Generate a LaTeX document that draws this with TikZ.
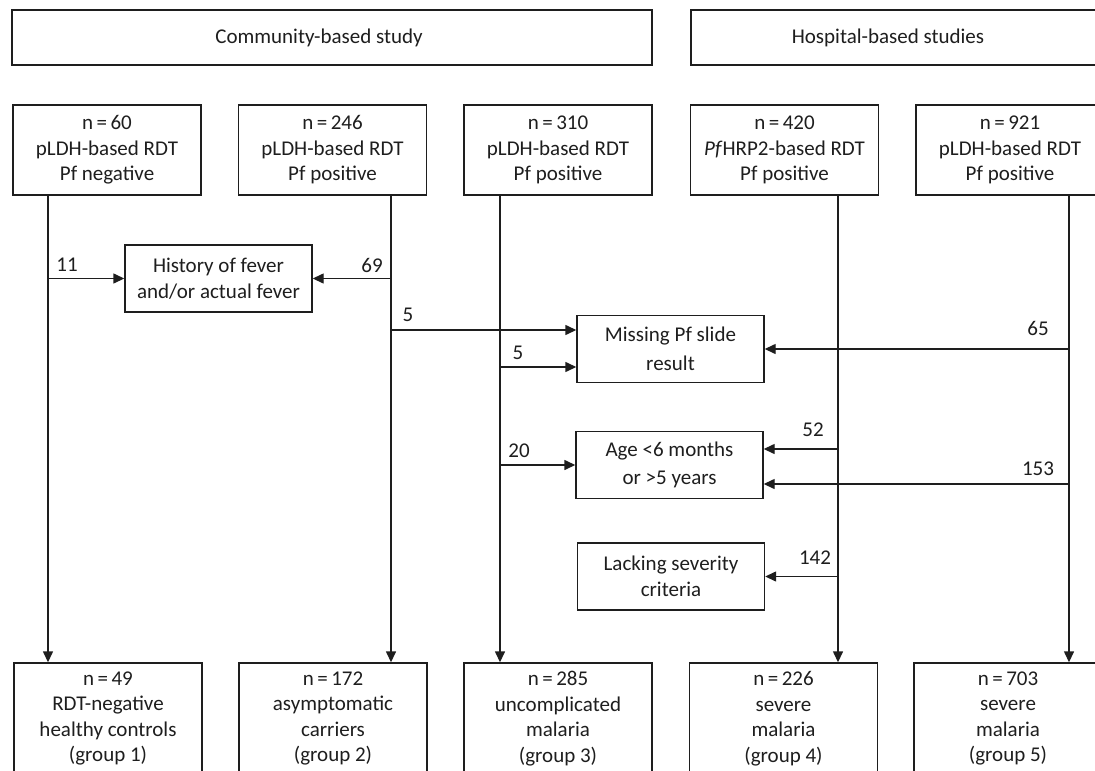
\documentclass[tikz,border=0pt]{standalone}
\usepackage{fontspec}
\setmainfont{Carlito}
\usetikzlibrary{arrows.meta}
\definecolor{ink}{RGB}{30,30,30}
\begin{document}
\begin{tikzpicture}[x=1pt,y=-1pt,line width=1.4pt,draw=ink,text=ink,
  box/.style={draw=ink,rectangle,inner sep=0pt,align=center,font=\fontsize{21}{25.5}\selectfont},
  headbox/.style={box,minimum height=55},
  topbox/.style={box,minimum width=188,minimum height=90},
  sidebox/.style={box,minimum width=187,minimum height=67},
  botbox/.style={box,minimum width=188,minimum height=111},
  arr/.style={-{Triangle[length=11pt,width=10pt]}},
  num/.style={inner sep=0pt,font=\fontsize{21}{25.5}\selectfont}]
\clip (0,0) rectangle (1095,771);
\fill[white] (0,0) rectangle (1095,771);
% headers
\node[headbox,minimum width=640] (comm) at (332,37.5) {Community-based study\hspace*{26pt}};
\node[headbox,minimum width=413] (hosp) at (897.5,37.5) {Hospital-based studies\hspace*{19pt}};
% top boxes
\node[topbox] (t1) at (107,150) {n\,=\,60\\pLDH-based RDT\\Pf negative};
\node[topbox] (t2) at (332.5,150) {n\,=\,246\\pLDH-based RDT\\Pf positive};
\node[topbox] (t3) at (558,150) {n\,=\,310\\pLDH-based RDT\\Pf positive};
\node[topbox] (t4) at (784.5,150) {n\,=\,420\\\textit{Pf}HRP2-based RDT\\Pf positive};
\node[topbox] (t5) at (1010,150) {n\,=\,921\\pLDH-based RDT\\Pf positive};
% side boxes
\node[sidebox] (hist) at (218.5,278.5) {History of fever\\and/or actual fever};
\node[sidebox] (miss) at (670.5,349) {Missing Pf slide\\[3pt]result};
\node[sidebox] (age) at (669.5,465) {Age <6 months\\[3pt]or >5 years};
\node[sidebox] (lack) at (671,576.5) {Lacking severity\\criteria};
% bottom boxes
\node[botbox] (b1) at (108,718.5) {n\,=\,49\\RDT-negative\\healthy controls\\(group 1)};
\node[botbox] (b2) at (333,718.5) {n\,=\,172\\asymptomatic\\carriers\\(group 2)};
\node[botbox] (b3) at (558,718.5) {n\,=\,285\\uncomplicated\\malaria\\(group 3)};
\node[botbox] (b4) at (783.5,718.5) {n\,=\,226\\severe\\malaria\\(group 4)};
\node[botbox] (b5) at (1008,718.5) {n\,=\,703\\severe\\malaria\\(group 5)};
% flow line positions
\coordinate (c1) at (48,0);
\coordinate (c2) at (391,0);
\coordinate (c3) at (500,0);
\coordinate (c4) at (838,0);
\coordinate (c5) at (1069,0);
\coordinate (r5a) at (0,330);
\coordinate (r5b) at (0,367);
\coordinate (r52) at (0,449);
\coordinate (r153) at (0,484);
% main vertical arrows
\draw[arr] (t1.south -| c1) -- (b1.north -| c1);
\draw[arr] (t2.south -| c2) -- (b2.north -| c2);
\draw[arr] (t3.south -| c3) -- (b3.north -| c3);
\draw[arr] (t4.south -| c4) -- (b4.north -| c4);
\draw[arr] (t5.south -| c5) -- (b5.north -| c5);
% exclusion arrows
\draw[arr] (c1 |- hist.west) -- (hist.west);
\draw[arr] (c2 |- hist.east) -- (hist.east);
\draw[arr] (c2 |- r5a) -- (miss.west |- r5a);
\draw[arr] (c3 |- r5b) -- (miss.west |- r5b);
\draw[arr] (c5 |- miss.east) -- (miss.east);
\draw[arr] (c3 |- age.west) -- (age.west);
\draw[arr] (c4 |- r52) -- (age.east |- r52);
\draw[arr] (c5 |- r153) -- (age.east |- r153);
\draw[arr] (c4 |- lack.east) -- (lack.east);
% counts
\node[num] (n11) at (67,265) {11};
\node[num] (n69) at (372,265) {69};
\node[num] (n5a) at (408,315) {5};
\node[num] (n5b) at (518,353) {5};
\node[num] (n65) at (1038,328) {65};
\node[num] (n20) at (519,451) {20};
\node[num] (n52) at (813,430) {52};
\node[num] (n153) at (1038,469) {153};
\node[num] (n142) at (815,558) {142};
\end{tikzpicture}
\end{document}
